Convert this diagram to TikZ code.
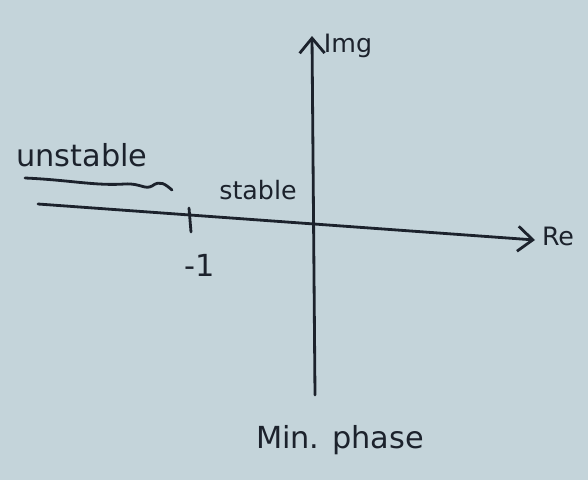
\documentclass[tikz,border=0pt]{standalone}
\usepackage{fontspec}
\setmainfont{DejaVu Sans}
\usepackage{xcolor}
\usetikzlibrary{arrows.meta,positioning,calc,decorations.pathmorphing}
\definecolor{paper}{RGB}{196,212,218}
\definecolor{ink}{RGB}{28,34,44}
\tikzset{
  pen/.style={draw=ink,line width=1.6pt,line cap=round},
  axisarrow/.style={pen,-{Straight Barb[length=3mm,width=5mm]}},
  sketchtext/.style={text=ink,font=\Large,inner sep=0pt}
}

\begin{document}
\begin{tikzpicture}[x=0.02cm,y=-0.02cm]
  \fill[paper] (0,0) rectangle (588,480);
  \coordinate (reW) at (38,204);
  \coordinate (reE) at (535,240);
  \coordinate (imS) at (315,395);
  \coordinate (imN) at (312,36);
  \coordinate (tickT) at (189,208);
  \coordinate (tickB) at (191,232);
  \coordinate (waveW) at (25,178);
  \coordinate (waveE) at (172,190);
  \node[sketchtext] (re) at (558,236) {Re};
  \node[sketchtext] (img) at (348,46) {Img};
  \node[sketchtext,font=\LARGE] (unstable) at (82,155) {unstable};
  \node[sketchtext] (stable) at (258,190) {stable};
  \node[sketchtext,font=\LARGE] (minus1) at (200,265) {-1};
  \node[sketchtext,font=\LARGE] (minphase) at (340,440) {Min. phase};
  \draw[axisarrow] (reW) -- (reE);
  \draw[axisarrow] (imS) -- (imN);
  \draw[pen] (tickT) -- (tickB);
  % wavy underline
  \draw[pen] (waveW) .. controls (70,180) and (95,186) .. (125,184)
    .. controls (140,183) and (145,190) .. (152,186)
    .. controls (160,180) and (165,184) .. (waveE);
\end{tikzpicture}
\end{document}
